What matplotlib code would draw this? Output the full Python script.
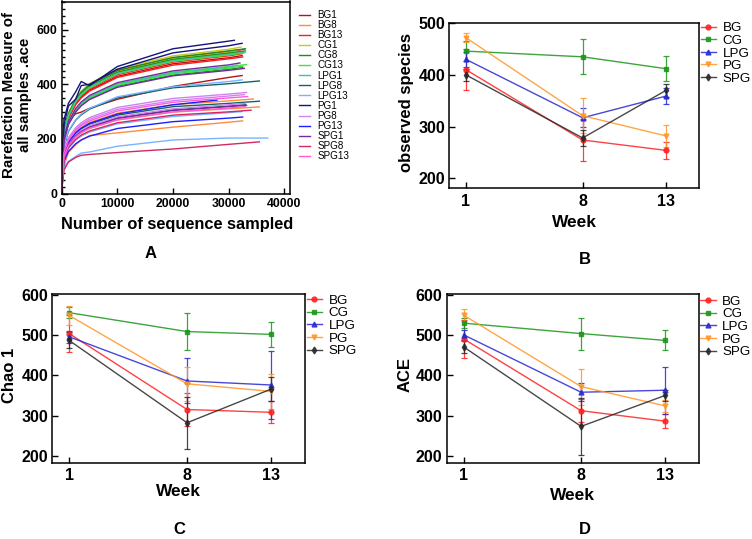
import matplotlib
matplotlib.use("Agg")
import matplotlib.pyplot as plt
from matplotlib.ticker import MultipleLocator
from matplotlib.lines import Line2D

plt.rcParams['font.family'] = ['Liberation Sans', 'DejaVu Sans']

# ---------------- Panel A: rarefaction curves ----------------
rare_grid = [0, 400, 1200, 2500, 3500, 5000, 10000, 20000, 30000]
rare_labels = ["BG1", "BG8", "BG13", "CG1", "CG8", "CG13", "LPG1", "LPG8",
               "LPG13", "PG1", "PG8", "PG13", "SPG1", "SPG8", "SPG13"]
rare_colors = ["#b41414", "#ff8c3c", "#ff1a1a", "#c8c81e", "#1e8c1e", "#3ce63c",
               "#3cc896", "#146464", "#78b4ff", "#14147d", "#d282f0", "#1e1eff",
               "#7828a0", "#d22864", "#ff5adc"]

# each curve: (last sequence count, values at the grid points below it + final value)
rare_BG1 = [(32400, [20, 210, 265, 292, 298, 312, 345, 392, 425, 432]),
            (32400, [30, 212, 278, 328, 354, 379, 429, 475, 497, 505])]
rare_BG8 = [(34400, [21, 145, 190, 225, 242, 260, 294, 325, 339, 346]),
            (35500, [19, 133, 174, 206, 222, 238, 269, 298, 310, 317]),
            (32500, [16, 100, 150, 178, 195, 212, 222, 243, 261, 266])]
rare_BG13 = [(32800, [32, 222, 290, 343, 370, 396, 449, 496, 520, 528]),
             (32500, [31, 218, 286, 338, 364, 390, 442, 489, 512, 520]),
             (32400, [31, 215, 282, 333, 358, 384, 435, 481, 504, 512]),
             (32500, [30, 210, 275, 325, 350, 375, 425, 470, 493, 500])]
rare_CG1 = [(32200, [32, 225, 295, 348, 375, 402, 456, 504, 528, 536]),
            (31500, [32, 221, 289, 341, 368, 394, 446, 494, 517, 525])]
rare_CG8 = [(33000, [32, 223, 292, 345, 371, 398, 451, 498, 522, 530]),
            (33000, [31, 219, 287, 339, 365, 392, 444, 491, 514, 522]),
            (32500, [28, 194, 254, 300, 323, 347, 393, 434, 455, 462])]
rare_CG13 = [(32800, [31, 216, 283, 335, 361, 386, 438, 484, 507, 515]),
             (33200, [28, 198, 260, 307, 330, 354, 401, 444, 465, 472]),
             (32500, [28, 196, 256, 303, 326, 350, 396, 438, 459, 466])]
rare_LPG1 = [(33000, [31, 218, 285, 337, 363, 389, 440, 487, 510, 518]),
             (31500, [28, 197, 259, 306, 329, 353, 400, 442, 463, 470])]
rare_LPG8 = [(35500, [25, 173, 227, 268, 288, 309, 350, 387, 402, 412]),
             (35500, [20, 142, 186, 220, 237, 254, 287, 318, 330, 338]),
             (33000, [20, 137, 179, 211, 228, 244, 276, 306, 320, 325])]
rare_LPG13 = [(32400, [25, 175, 229, 270, 291, 312, 354, 391, 410, 416]),
              (32400, [18, 126, 165, 195, 210, 225, 255, 282, 296, 300]),
              (37000, [10, 95, 118, 135, 148, 152, 173, 196, 203, 203])]
rare_PG1 = [(31000, [35, 270, 330, 372, 410, 395, 465, 530, 558, 561]),
            (32400, [30, 250, 320, 345, 395, 400, 455, 515, 541, 550])]
rare_PG8 = [(33200, [22, 155, 204, 241, 259, 278, 315, 348, 364, 370]),
            (32800, [22, 152, 199, 235, 253, 272, 308, 340, 357, 362]),
            (33000, [20, 139, 182, 215, 231, 248, 281, 310, 325, 330])]
rare_PG13 = [(27900, [21, 144, 188, 222, 239, 257, 291, 325, 342]),
             (32500, [17, 118, 154, 182, 196, 210, 238, 263, 276, 280])]
rare_SPG1 = [(32000, [29, 201, 263, 311, 335, 359, 406, 449, 471, 478]),
             (32800, [27, 192, 252, 298, 321, 344, 389, 431, 451, 458]),
             (33200, [19, 136, 178, 210, 226, 242, 275, 304, 318, 323])]
rare_SPG8 = [(34000, [18, 128, 168, 198, 214, 229, 259, 287, 299, 305]),
             (35500, [8, 85, 115, 132, 140, 143, 150, 163, 180, 189])]
rare_SPG13 = [(33400, [21, 149, 195, 231, 249, 266, 302, 334, 350, 355]),
              (33000, [19, 134, 175, 207, 223, 239, 270, 299, 313, 318])]

rare_groups = [rare_BG1, rare_BG8, rare_BG13, rare_CG1, rare_CG8, rare_CG13,
               rare_LPG1, rare_LPG8, rare_LPG13, rare_PG1, rare_PG8, rare_PG13,
               rare_SPG1, rare_SPG8, rare_SPG13]

# ---------------- Panels B-D: alpha diversity ----------------
weeks = [1, 8, 13]
groups = ["BG", "CG", "LPG", "PG", "SPG"]
group_colors = ["#ff2020", "#1a961a", "#2828d2", "#ff9628", "#282828"]
group_markers = ["o", "s", "^", "v", "d"]

obs_mean = {"BG": [410, 274, 254], "CG": [446, 435, 412], "LPG": [430, 317, 359],
            "PG": [472, 321, 282], "SPG": [400, 278, 370]}
obs_err = {"BG": [40, 40, 16], "CG": [20, 34, 24], "LPG": [15, 18, 16],
           "PG": [9, 34, 22], "SPG": [12, 15, 12]}

chao_mean = {"BG": [504, 315, 308], "CG": [556, 509, 502], "LPG": [496, 386, 376],
             "PG": [549, 379, 360], "SPG": [487, 282, 366]}
chao_err = {"BG": [45, 40, 27], "CG": [14, 46, 31], "LPG": [15, 56, 84],
            "PG": [23, 42, 43], "SPG": [20, 65, 30]}

ace_mean = {"BG": [491, 312, 286], "CG": [530, 504, 487], "LPG": [501, 358, 363],
            "PG": [550, 372, 324], "SPG": [471, 273, 350]}
ace_err = {"BG": [48, 28, 17], "CG": [12, 40, 25], "LPG": [12, 22, 58],
           "PG": [14, 45, 15], "SPG": [15, 71, 14]}

W, H = 752, 539
fig = plt.figure(figsize=(W / 100, H / 100), dpi=100)


def rect(l, t, r, b):
    return [l / W, 1 - b / H, (r - l) / W, (b - t) / H]


def style_axes(ax, tick_fs):
    for s in ax.spines.values():
        s.set_linewidth(1.1)
    ax.tick_params(which='both', direction='in', width=1.0, labelsize=tick_fs)
    ax.tick_params(which='major', length=4.5, pad=3)
    ax.tick_params(which='minor', length=2.5)
    for lbl in ax.get_xticklabels() + ax.get_yticklabels():
        lbl.set_fontweight('bold')


# ---- A ----
axA = fig.add_axes(rect(61.7, 1.5, 290, 193.5))
for grp, lab, col in zip(rare_groups, rare_labels, rare_colors):
    for i, (xend, ys) in enumerate(grp):
        xs = [g for g in rare_grid if g < xend] + [xend]
        axA.plot(xs, ys, color=col, lw=1.0, label=lab if i == 0 else None)
axA.set_xlim(0, 41000)
axA.set_ylim(0, 703)
axA.set_xticks([0, 10000, 20000, 30000, 40000])
axA.set_yticks([0, 200, 400, 600])
axA.yaxis.set_minor_locator(MultipleLocator(25))
style_axes(axA, 8.8)
axA.set_xlabel("Number of sequence sampled", fontsize=11.8, fontweight='bold', va='center')
axA.xaxis.set_label_coords((177 - 61.7) / 228.3, (193.5 - 224) / 192)
axA.set_ylabel("Rarefaction Measure of\nall samples .ace", fontsize=10.8,
               fontweight='bold', va='center', ha='center', linespacing=1.1)
axA.yaxis.set_label_coords((17 - 61.7) / 228.3, (193.5 - 95) / 192)
axA.legend(loc='upper left', bbox_to_anchor=(299 / W, 1 - 10 / H),
           bbox_transform=fig.transFigure, frameon=False, fontsize=7.1,
           handlelength=1.15, handletextpad=0.7, labelspacing=0.01,
           borderpad=0, borderaxespad=0)


def diversity_panel(box, means, errs, ylim, yticks, ylabel, ylab_x, leg_top):
    l, t, r, b = box
    ax = fig.add_axes(rect(l, t, r, b))
    handles = []
    for g, c, m in zip(groups, group_colors, group_markers):
        ax.errorbar(weeks, means[g], yerr=errs[g], color=c, marker=m, ms=3.5,
                    lw=1.0, elinewidth=0.9, capsize=2, capthick=0.9, alpha=0.85)
        handles.append(Line2D([], [], color=c, marker=m, ms=3.5, lw=1.0,
                              alpha=0.85, label=g))
    ax.set_xlim(0, 15)
    ax.set_ylim(*ylim)
    ax.set_xticks(weeks)
    ax.set_yticks(yticks)
    style_axes(ax, 11.5)
    ax.tick_params(axis='x', pad=4)
    ax.set_xlabel("Week", fontsize=12.5, fontweight='bold', va='center')
    ax.set_ylabel(ylabel, fontsize=12, fontweight='bold', va='center', ha='center')
    ax.yaxis.set_label_coords((ylab_x - l) / (r - l), 0.52)
    ax.legend(handles=handles, loc='upper left',
              bbox_to_anchor=((r + 1.5) / W, 1 - leg_top / H),
              bbox_transform=fig.transFigure, frameon=False, fontsize=9.6,
              handlelength=1.15, handletextpad=0.5, labelspacing=0.02,
              borderpad=0, borderaxespad=0)
    return ax


axB = diversity_panel((449.3, 22.7, 699.3, 188.3), obs_mean, obs_err, (180.6, 501),
                      [200, 300, 400, 500], "observed species", 406, 22)
axB.xaxis.set_label_coords((574.3 - 449.3) / 250, (188.3 - 223) / 165.6)

axC = diversity_panel((52.3, 294, 305, 462.7), chao_mean, chao_err, (182.6, 602.5),
                      [200, 300, 400, 500, 600], "Chao 1", 10, 294.5)
axC.xaxis.set_label_coords((178.3 - 52.3) / 252.7, (462.7 - 491.7) / 168.7)

axD = diversity_panel((446.7, 294, 698.7, 462.7), ace_mean, ace_err, (182.6, 602.5),
                      [200, 300, 400, 500, 600], "ACE", 405, 295.5)
axD.xaxis.set_label_coords((572.7 - 446.7) / 252, (462.7 - 495.5) / 168.7)

# panel letters
for letter, (px, py) in zip("ABCD", [(151, 254), (585, 260), (179, 530), (585, 530)]):
    fig.text(px / W, 1 - py / H, letter, fontsize=12, fontweight='bold',
             ha='center', va='center')

fig.savefig("out.png", dpi=100)
